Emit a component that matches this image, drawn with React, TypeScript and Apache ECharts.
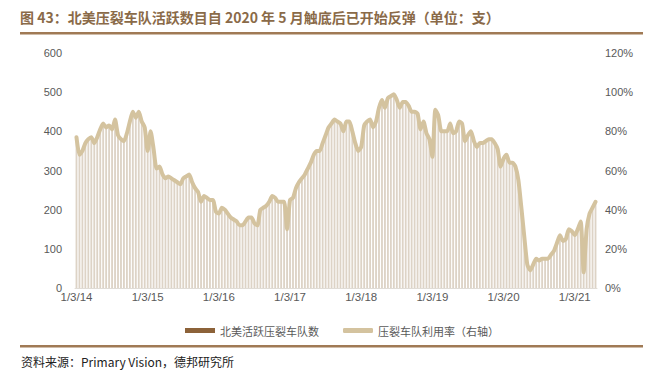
import React, { useEffect, useRef } from "react";
import * as echarts from "echarts";

// Semi-monthly readings starting 1/3/14
const fleetCounts = [
  385, 340, 348, 368, 380, 383, 372, 385, 405, 420, 412, 415, 405, 428, 390, 378, 375, 395, 425, 448,
  436, 448, 425, 412, 350, 400, 355, 305, 308, 292, 281, 283, 280, 276, 268, 266, 278, 287, 288, 268,
  255, 245, 222, 235, 230, 227, 225, 195, 192, 206, 200, 189, 178, 177, 172, 158, 162, 170, 180, 178,
  166, 162, 199, 204, 211, 222, 234, 230, 221, 218, 220, 150, 224, 230, 255, 270, 280, 292, 306, 322,
  338, 349, 352, 372, 392, 410, 420, 428, 425, 418, 400, 425, 425, 400, 370, 350, 360, 415, 423, 428,
  408, 423, 460, 478, 462, 484, 490, 496, 481, 460, 473, 475, 465, 452, 449, 445, 405, 425, 397, 380,
  335, 454, 440, 400, 401, 399, 420, 395, 400, 426, 421, 377, 392, 398, 375, 360, 369, 370, 377, 382,
  378, 370, 355, 310, 330, 340, 320, 321, 310, 275, 205, 130, 62, 47, 60, 74, 68, 76, 75, 75,
  86, 95, 115, 133, 122, 126, 148, 145, 137, 148, 168, 42, 150, 190, 205, 218,
];

const utilizationPct = [
  77, 68, 70, 74, 76, 77, 74, 77, 81, 84, 82, 83, 81, 86, 78, 76, 75, 79, 85, 90,
  87, 90, 85, 82, 70, 80, 71, 61, 62, 58, 56, 57, 56, 55, 54, 53, 56, 57, 58, 54,
  51, 49, 44, 47, 46, 45, 45, 39, 38, 41, 40, 38, 36, 35, 34, 32, 32, 34, 36, 36,
  33, 32, 40, 41, 42, 44, 47, 46, 44, 44, 44, 30, 45, 46, 51, 54, 56, 58, 61, 64,
  68, 70, 70, 74, 78, 82, 84, 86, 85, 84, 80, 85, 85, 80, 74, 70, 72, 83, 85, 86,
  82, 85, 92, 96, 92, 97, 98, 99, 96, 92, 95, 95, 93, 90, 90, 89, 81, 85, 79, 76,
  67, 91, 88, 80, 80, 80, 84, 79, 80, 85, 84, 75, 78, 80, 75, 72, 74, 74, 75, 76,
  76, 74, 71, 62, 66, 68, 64, 64, 62, 55, 41, 26, 12, 9, 12, 15, 14, 15, 15, 15,
  17, 19, 23, 27, 24, 25, 30, 29, 27, 30, 34, 8, 30, 38, 41, 44,
];

const yearTickLabels = ["1/3/14", "1/3/15", "1/3/16", "1/3/17", "1/3/18", "1/3/19", "1/3/20", "1/3/21"];
const POINTS_PER_YEAR = 24;

const categories: string[] = fleetCounts.map((_, i) => {
  const year = 2014 + Math.floor(i / POINTS_PER_YEAR);
  const k = i % POINTS_PER_YEAR;
  const month = Math.floor(k / 2) + 1;
  const day = k % 2 === 0 ? 3 : 17;
  return `${month}/${day}/${String(year).slice(2)}`;
});

const BAR_NAME = "北美活跃压裂车队数";
const LINE_NAME = "压裂车队利用率（右轴）";

export default function App() {
  const ref = useRef<HTMLDivElement>(null);
  useEffect(() => {
    if (!ref.current) return;
    const chart = echarts.init(ref.current, undefined, { renderer: "svg" });
    const axisFont = "Liberation Sans, Arial, sans-serif";
    const cjkFont = "Noto Sans CJK SC, sans-serif";
    chart.setOption({
      animation: false,
      backgroundColor: "#ffffff",
      grid: { left: 75, right: 61, top: 53, bottom: 93, containLabel: false },
      graphic: [
        {
          type: "text",
          left: 20,
          top: 10,
          style: {
            text: "图 43：北美压裂车队活跃数目自 2020 年 5 月触底后已开始反弹（单位：支）",
            fill: "#8a6a48",
            font: `bold 14px ${cjkFont}`,
          },
        },
        {
          type: "rect",
          shape: { x: 20, y: 32, width: 623, height: 2.5 },
          style: { fill: "#a07a55" },
        },
        {
          type: "rect",
          shape: { x: 20, y: 345, width: 623, height: 2.5 },
          style: { fill: "#a07a55" },
        },
        {
          type: "text",
          left: 21,
          top: 355,
          style: {
            text: "资料来源：Primary Vision，德邦研究所",
            fill: "#222222",
            font: `12px ${cjkFont}`,
          },
        },
      ],
      legend: {
        left: 180,
        top: 320,
        itemWidth: 30,
        itemHeight: 5,
        itemGap: 24,
        textStyle: { color: "#595959", fontSize: 11, fontFamily: cjkFont },
        data: [
          { name: BAR_NAME, icon: "rect", itemStyle: { color: "#8c6239" } },
          { name: LINE_NAME, icon: "roundRect", itemStyle: { color: "#d4c39f" } },
        ],
      },
      xAxis: {
        type: "category",
        data: categories,
        boundaryGap: true,
        axisLine: { show: true, lineStyle: { color: "#e0dcd6", width: 1 } },
        axisTick: { show: false },
        axisLabel: {
          interval: (index: number) => index % POINTS_PER_YEAR === 0,
          formatter: (_v: string, index: number) => yearTickLabels[Math.floor(index / POINTS_PER_YEAR)] ?? "",
          color: "#595959",
          fontSize: 11.5,
          fontFamily: axisFont,
          margin: 3,
        },
        splitLine: { show: false },
      },
      yAxis: [
        {
          type: "value",
          min: 0,
          max: 600,
          interval: 100,
          axisLine: { show: false },
          axisTick: { show: false },
          splitLine: { show: false },
          axisLabel: { color: "#595959", fontSize: 11, fontFamily: axisFont, margin: 13 },
        },
        {
          type: "value",
          min: 0,
          max: 120,
          interval: 20,
          position: "right",
          axisLine: { show: false },
          axisTick: { show: false },
          splitLine: { show: false },
          axisLabel: {
            color: "#595959",
            fontSize: 11,
            fontFamily: axisFont,
            margin: 8,
            formatter: "{value}%",
          },
        },
      ],
      series: [
        {
          name: BAR_NAME,
          type: "bar",
          data: fleetCounts,
          yAxisIndex: 0,
          barCategoryGap: "38%",
          itemStyle: { color: "#ddd3c6" },
          z: 1,
        },
        {
          name: LINE_NAME,
          type: "line",
          data: utilizationPct,
          yAxisIndex: 1,
          showSymbol: false,
          symbol: "none",
          smooth: 0.2,
          lineStyle: { color: "#d4c39f", width: 4, join: "round", cap: "round" },
          itemStyle: { color: "#d4c39f" },
          z: 3,
        },
      ],
    });
    return () => chart.dispose();
  }, []);
  return <div ref={ref} style={{ width: 658, height: 381, position: "absolute", left: 0, top: 0 }} />;
}
